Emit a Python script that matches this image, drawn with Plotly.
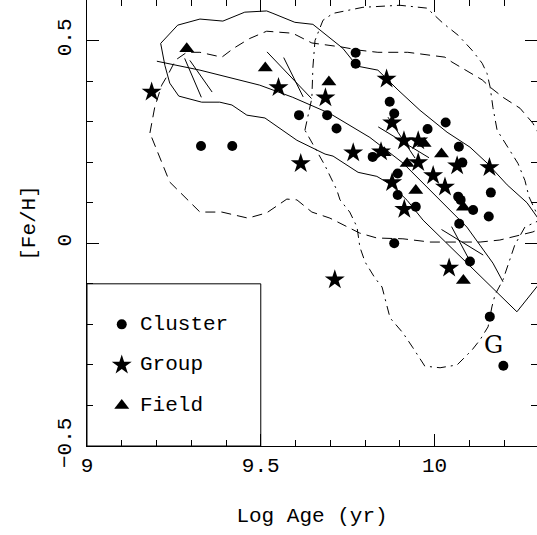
import plotly.graph_objects as go

# ---- data ----
cluster_x = [9.328, 9.418, 9.610, 9.691, 9.718, 9.773, 9.773, 9.822, 9.871, 9.884,
             9.894, 9.894, 9.884, 9.946, 9.980, 10.032, 10.070, 10.080, 10.068, 10.075,
             10.111, 10.162, 10.156, 10.071, 10.102, 10.159, 10.198]
cluster_y = [0.240, 0.240, 0.316, 0.316, 0.283, 0.470, 0.443, 0.213, 0.349, 0.320,
             0.172, 0.119, 0.000, 0.090, 0.282, 0.298, 0.238, 0.199, 0.115, 0.107,
             0.082, 0.125, 0.066, 0.048, -0.045, -0.181, -0.302]

group_x = [9.186, 9.551, 9.686, 9.862, 9.878, 9.912, 9.953, 9.953, 9.766, 9.615,
           9.846, 9.996, 10.030, 10.065, 10.158, 9.878, 9.913, 10.042, 9.713]
group_y = [0.373, 0.384, 0.359, 0.405, 0.297, 0.253, 0.253, 0.199, 0.223, 0.197,
           0.226, 0.167, 0.139, 0.191, 0.187, 0.150, 0.084, -0.061, -0.090]

field_x = [9.287, 9.513, 9.696, 9.855, 9.970, 10.020, 9.921, 9.946, 10.083, 10.083]
field_y = [0.480, 0.432, 0.398, 0.223, 0.246, 0.220, 0.197, 0.130, 0.089, -0.092]

# solid envelope contour
solid_x = [9.212, 9.261, 9.325, 9.391, 9.454, 9.517, 9.535, 9.598, 9.650, 9.736,
           9.777, 9.837, 9.895, 9.958, 10.036, 10.102, 10.151, 10.209, 10.266, 10.370,
           10.237, 10.024, 9.967, 9.921, 9.877, 9.834, 9.780, 9.708, 9.685, 9.604,
           9.552, 9.512, 9.460, 9.417, 9.382, 9.330, 9.264, 9.238, 9.224, 9.212]
solid_y = [0.493, 0.538, 0.553, 0.548, 0.570, 0.573, 0.567, 0.545, 0.540, 0.481,
           0.437, 0.427, 0.378, 0.328, 0.274, 0.237, 0.198, 0.144, 0.100, -0.026,
           -0.169, 0.008, 0.057, 0.106, 0.143, 0.165, 0.175, 0.215, 0.220, 0.254,
           0.286, 0.309, 0.316, 0.341, 0.348, 0.348, 0.363, 0.395, 0.439, 0.493]

# central relation
mid_x = [9.201, 9.325, 9.497, 9.592, 9.699, 9.814, 9.909, 10.007, 10.093, 10.168, 10.197]
mid_y = [0.449, 0.427, 0.390, 0.360, 0.320, 0.261, 0.198, 0.114, 0.040, -0.049, -0.095]

# short crossing segments (pairs)
seg_x = [[9.281, 9.329], [9.296, 9.360], [9.518, 9.646], [9.566, 9.622],
         [9.838, 9.984], [9.866, 9.944], [10.020, 10.140], [10.049, 10.100]]
seg_y = [[0.456, 0.360], [0.451, 0.373], [0.472, 0.357], [0.458, 0.361],
         [0.287, 0.211], [0.311, 0.210], [0.034, -0.029], [0.041, -0.041]]

# dashed contour
dash_x = [9.181, 9.195, 9.215, 9.235, 9.255, 9.287, 9.325, 9.388, 9.422, 9.468,
          9.517, 9.592, 9.647, 9.733, 9.785, 9.837, 9.923, 10.030, 10.050, 10.073,
          10.137, 10.160, 10.197, 10.246, 10.283, 10.326, 10.326, 10.283, 10.246, 10.188,
          10.131, 9.987, 9.909, 9.834, 9.785, 9.751, 9.699, 9.647, 9.604, 9.575,
          9.517, 9.463, 9.388, 9.325, 9.238, 9.181]
dash_y = [0.272, 0.336, 0.390, 0.419, 0.452, 0.471, 0.471, 0.459, 0.481, 0.505,
          0.523, 0.518, 0.494, 0.484, 0.476, 0.471, 0.471, 0.459, 0.447, 0.435,
          0.403, 0.385, 0.360, 0.333, 0.296, 0.229, 0.045, 0.028, 0.020, 0.008,
          0.003, 0.003, 0.011, 0.013, 0.025, 0.040, 0.062, 0.077, 0.107, 0.109,
          0.075, 0.062, 0.077, 0.077, 0.151, 0.272]

# dash-dot contour
dd_x = [9.627, 9.647, 9.650, 9.656, 9.679, 9.708, 9.794, 9.900, 9.978, 10.024,
        10.068, 10.108, 10.137, 10.151, 10.160, 10.168, 10.180, 10.217, 10.240, 10.260,
        10.272, 10.303, 10.260, 10.231, 10.197, 10.174, 10.165, 10.154, 10.131, 10.108,
        10.065, 10.016, 9.972, 9.938, 9.909, 9.872, 9.849, 9.828, 9.800, 9.785,
        9.777, 9.756, 9.728, 9.719, 9.684, 9.656, 9.627]
dd_y = [0.279, 0.358, 0.434, 0.500, 0.550, 0.567, 0.582, 0.587, 0.580, 0.543,
        0.513, 0.476, 0.444, 0.419, 0.385, 0.335, 0.279, 0.229, 0.197, 0.155,
        0.114, 0.057, 0.040, -0.004, -0.090, -0.127, -0.157, -0.206, -0.238, -0.263,
        -0.300, -0.307, -0.303, -0.258, -0.221, -0.184, -0.108, -0.085, -0.046, -0.009,
        0.040, 0.077, 0.107, 0.131, 0.193, 0.235, 0.279]

legend_names = ["Cluster", "Group", "Field"]
legend_symbols = ["circle", "star", "triangle-up"]
legend_sizes = [10, 15, 13]
legend_rows_y = [-0.2, -0.3, -0.4]

x_ticks = [9, 9.5, 10]
x_ticklabels = ["9", "9.5", "10"]
y_ticks = [-0.5, 0, 0.5]
y_ticklabels = ["\u22120.5", "0", "0.5"]

FONT = "Liberation Mono"

fig = go.Figure()
ln = dict(color="black", width=1)
fig.add_trace(go.Scatter(x=dash_x, y=dash_y, mode="lines",
                         line=dict(color="black", width=1, dash="10px,6px")))
fig.add_trace(go.Scatter(x=dd_x, y=dd_y, mode="lines",
                         line=dict(color="black", width=1, dash="9px,5px,2px,5px")))
fig.add_trace(go.Scatter(x=solid_x, y=solid_y, mode="lines", line=ln))
fig.add_trace(go.Scatter(x=mid_x, y=mid_y, mode="lines", line=ln))
for sx, sy in zip(seg_x, seg_y):
    fig.add_trace(go.Scatter(x=sx, y=sy, mode="lines", line=ln))

fig.add_trace(go.Scatter(x=cluster_x, y=cluster_y, mode="markers",
                         marker=dict(symbol="circle", size=10, color="black")))
fig.add_trace(go.Scatter(x=group_x, y=group_y, mode="markers",
                         marker=dict(symbol="star", size=15, color="black")))
fig.add_trace(go.Scatter(x=field_x, y=field_y, mode="markers",
                         marker=dict(symbol="triangle-up", size=13, color="black")))

# legend box
fig.add_shape(type="rect", x0=9, x1=9.5, y0=-0.5, y1=-0.1,
              line=dict(color="black", width=1), fillcolor="rgba(0,0,0,0)")
for name, sym, sz, ly in zip(legend_names, legend_symbols, legend_sizes, legend_rows_y):
    fig.add_trace(go.Scatter(x=[9.1], y=[ly], mode="markers",
                             marker=dict(symbol=sym, size=sz, color="black")))
    fig.add_annotation(x=9.148, y=ly, text=name, showarrow=False, xanchor="left",
                       yanchor="middle", font=dict(family=FONT, size=21, color="black"))

fig.add_annotation(x=10.169, y=-0.25, text="G", showarrow=False,
                   font=dict(family="DejaVu Serif", size=24, color="black"))

axis_common = dict(showgrid=False, zeroline=False, showline=True, linecolor="black",
                   linewidth=1, mirror="allticks", ticks="inside", ticklen=12,
                   tickcolor="black", tickwidth=1,
                   tickfont=dict(family=FONT, size=21, color="black"))
fig.update_xaxes(range=[9, 10.2948], tickvals=x_ticks, ticktext=x_ticklabels,
                 minor=dict(dtick=0.1, tick0=9, ticks="inside", ticklen=6, tickcolor="black"),
                 title=dict(text="Log Age (yr)", font=dict(family=FONT, size=21, color="black"),
                            standoff=30),
                 **axis_common)
fig.update_yaxes(range=[-0.5, 0.6], tickvals=y_ticks, ticktext=y_ticklabels, tickangle=-90,
                 ticklabelstandoff=7,
                 minor=dict(dtick=0.1, tick0=0, ticks="inside", ticklen=6, tickcolor="black"),
                 title=dict(text="[Fe/H]", font=dict(family=FONT, size=21, color="black"),
                            standoff=12),
                 **axis_common)
fig.update_layout(width=537, height=535, showlegend=False,
                  margin=dict(l=87, r=0, t=0, b=89),
                  plot_bgcolor="white", paper_bgcolor="white")
fig.write_html("out.html", config={"displayModeBar": False},
               post_script="document.body.style.margin='0';")
